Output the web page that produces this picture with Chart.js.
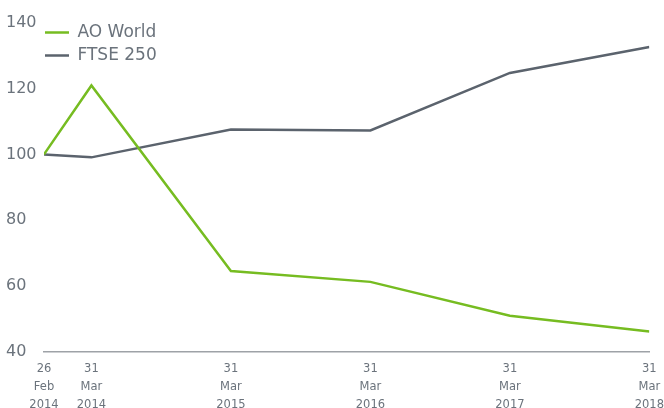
<!DOCTYPE html>
<html>
<head>
<meta charset="utf-8">
<script src="https://cdn.jsdelivr.net/npm/chart.js@4/dist/chart.umd.min.js"></script>
<style>
  html, body { margin: 0; padding: 0; background: #fff; overflow: hidden; }
  #wrap { position: relative; width: 664px; height: 414px; }
</style>
</head>
<body>
<div id="wrap"><canvas id="tsrChart"></canvas></div>
<script>
// period position on the x axis (Feb 2014 = 0, then yearly from Mar 2014)
const periods = [0, 0.34, 1.34, 2.34, 3.34, 4.34];
const periodLabels = [
  ['26', 'Feb', '2014'],
  ['31', 'Mar', '2014'],
  ['31', 'Mar', '2015'],
  ['31', 'Mar', '2016'],
  ['31', 'Mar', '2017'],
  ['31', 'Mar', '2018']
];
const aoWorld = [100, 121, 64.5, 61.2, 50.9, 46.1];
const ftse250 = [100, 99.1, 107.6, 107.3, 124.8, 132.7];
const yTicks = [40, 60, 80, 100, 120, 140];

const textGrey = '#6b737c';
const font = "'DejaVu Sans', sans-serif";

// nudge the legend inside the plot area
const legendShift = {
  id: 'legendShift',
  afterLayout(chart) {
    chart.legend.left += -5;
    chart.legend.top += 18;
  }
};

let ctx = document.getElementById('tsrChart').getContext('2d');

let chart = new Chart(ctx, {
  type: 'line',
  data: {
    datasets: [
      {
        label: 'AO World',
        data: periods.map((p, i) => ({ x: p, y: aoWorld[i] })),
        borderColor: '#76bc21',
        backgroundColor: '#76bc21',
        borderWidth: 2.5
      },
      {
        label: 'FTSE 250',
        data: periods.map((p, i) => ({ x: p, y: ftse250[i] })),
        borderColor: '#5b636d',
        backgroundColor: '#5b636d',
        borderWidth: 2.5
      }
    ]
  },
  plugins: [legendShift],
  options: {
    responsive: true,
    maintainAspectRatio: false,
    animation: false,
    events: [],
    elements: { point: { radius: 0 }, line: { tension: 0 } },
    layout: { padding: { top: 23, left: 6, right: 0, bottom: 0 } },
    scales: {
      x: {
        type: 'linear',
        min: periods[0],
        max: periods[periods.length - 1],
        afterBuildTicks: (scale) => {
          scale.ticks = periods.map(v => ({ value: v }));
        },
        ticks: {
          autoSkip: false,
          maxRotation: 0,
          padding: 0,
          color: textGrey,
          font: { family: font, size: 11.5, lineHeight: 1.55 },
          callback: (value) => {
            let i = periods.indexOf(value);
            return i >= 0 ? periodLabels[i] : '';
          }
        },
        grid: { display: false, drawTicks: true, tickLength: 9 },
        border: { display: true, color: '#9ea2a7', width: 1.5 }
      },
      y: {
        min: 40,
        max: 140,
        afterBuildTicks: (scale) => {
          scale.ticks = yTicks.map(v => ({ value: v }));
        },
        afterFit: (scale) => {
          scale.width = 38;
        },
        ticks: {
          color: textGrey,
          padding: 6,
          crossAlign: 'far',
          font: { family: font, size: 16 }
        },
        grid: { display: false, drawTicks: false },
        border: { display: false }
      }
    },
    plugins: {
      tooltip: { enabled: false },
      legend: {
        position: 'chartArea',
        align: 'start',
        labels: {
          usePointStyle: true,
          pointStyle: 'line',
          pointStyleWidth: 24,
          boxHeight: 16,
          padding: 6,
          color: textGrey,
          font: { family: font, size: 17 }
        }
      }
    }
  }
});
</script>
</body>
</html>
